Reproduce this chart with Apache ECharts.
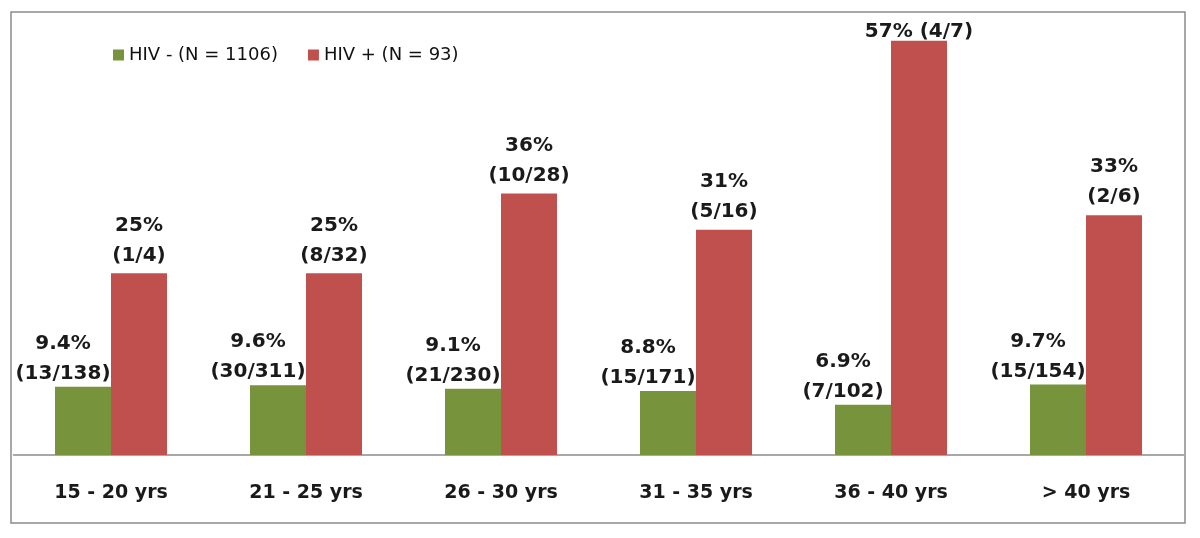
<!DOCTYPE html>
<html>
<head>
<meta charset="utf-8">
<script src="https://cdn.jsdelivr.net/npm/echarts@6/dist/echarts.min.js"></script>
<style>
html,body{margin:0;padding:0;background:#fff;}
#main{width:1200px;height:538px;}
</style>
</head>
<body>
<div id="main"></div>
<script>
var categories = ['15 - 20 yrs', '21 - 25 yrs', '26 - 30 yrs', '31 - 35 yrs', '36 - 40 yrs', '> 40 yrs'];
var hivNegValues = [9.4, 9.6, 9.1, 8.8, 6.9, 9.7];
var hivPosValues = [25, 25, 36, 31, 57, 33];
var hivNegLabels = ['9.4%\n(13/138)', '9.6%\n(30/311)', '9.1%\n(21/230)', '8.8%\n(15/171)', '6.9%\n(7/102)', '9.7%\n(15/154)'];
var hivPosLabels = ['25%\n(1/4)', '25%\n(8/32)', '36%\n(10/28)', '31%\n(5/16)', '57% (4/7)', '33%\n(2/6)'];
var seriesNames = ['HIV - (N = 1106)', 'HIV + (N = 93)'];

var chart = echarts.init(document.getElementById('main'));
var labelFont = {fontFamily: 'DejaVu Sans', fontWeight: 'bold', fontSize: 20, color: '#1a1a1a', lineHeight: 30};
chart.setOption({
  animation: false,
  backgroundColor: '#ffffff',
  graphic: [{
    type: 'rect',
    shape: {x: 11, y: 12, width: 1174, height: 511},
    style: {fill: 'none', stroke: '#8c8c8c', lineWidth: 1.5},
    silent: true, z: -1
  }],
  legend: {
    left: 108, top: 41,
    itemWidth: 11, itemHeight: 11, itemGap: 30,
    icon: 'rect',
    textStyle: {fontFamily: 'DejaVu Sans', fontSize: 18, color: '#111'},
    data: seriesNames
  },
  grid: {left: 13.5, right: 16.5, top: 19, bottom: 83, containLabel: false},
  xAxis: {
    type: 'category',
    data: categories,
    axisLine: {lineStyle: {color: '#8c8c8c', width: 1.5}},
    axisTick: {show: false},
    axisLabel: {fontFamily: 'DejaVu Sans', fontWeight: 'bold', fontSize: 19, color: '#1a1a1a', margin: 29}
  },
  yAxis: {
    type: 'value', min: 0, max: 60,
    show: false, splitLine: {show: false}
  },
  series: [{
    name: seriesNames[0],
    type: 'bar',
    barWidth: 56,
    barGap: '0%',
    itemStyle: {color: '#77933C'},
    data: hivNegValues,
    label: Object.assign({
      show: true, position: 'top', distance: -2, offset: [-20, 0],
      formatter: function (p) { return hivNegLabels[p.dataIndex]; }
    }, labelFont)
  }, {
    name: seriesNames[1],
    type: 'bar',
    barWidth: 56,
    barGap: '0%',
    itemStyle: {color: '#C0504D'},
    data: hivPosValues.map(function (v, i) {
      return i === 4 ? {value: v, label: {offset: [0, 9]}} : v;
    }),
    label: Object.assign({
      show: true, position: 'top', distance: 3,
      formatter: function (p) { return hivPosLabels[p.dataIndex]; }
    }, labelFont)
  }]
});
</script>
</body>
</html>
